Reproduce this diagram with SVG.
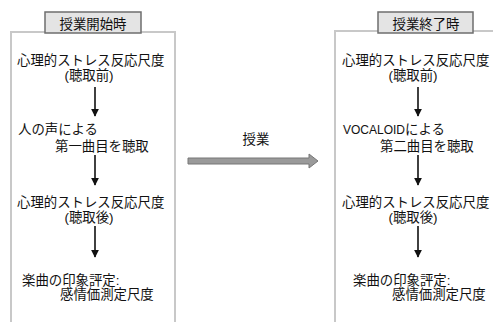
<svg xmlns="http://www.w3.org/2000/svg" width="493" height="322" viewBox="0 0 493 322">
<defs>
<style>
text{font-family:"Liberation Sans","Noto Sans CJK JP",sans-serif;font-size:13.4px;fill:#111}
.box{fill:#fff;stroke:#c8c8c8;stroke-width:2}
.tab{fill:#e4e4e4;stroke:#6e6e6e;stroke-width:1.5}
.down{stroke:#111;stroke-width:1.6;fill:none;marker-end:url(#ah)}
.mid{text-anchor:middle}
</style>
<marker id="ah" viewBox="0 0 10 10" refX="9" refY="5" markerWidth="5" markerHeight="5" orient="auto" markerUnits="strokeWidth">
<path d="M0,0 L10,5 L0,10 Z" fill="#111"/>
</marker>
</defs>
<rect width="493" height="322" fill="#fff"/>
<g id="left-panel">
<rect class="box" x="11" y="32" width="164" height="300"/>
<rect class="tab" x="45" y="12" width="96" height="21"/>
<text x="93" y="29" class="mid">授業開始時</text>
</g>
<g id="right-panel">
<rect class="box" x="335" y="31" width="170" height="300"/>
<rect class="tab" x="378" y="12" width="95" height="21"/>
<text x="426" y="29" class="mid">授業終了時</text>
</g>
<g id="L1"><text x="17" y="65">心理的ストレス反応尺度</text><text x="89" y="80" class="mid">(聴取前)</text></g>
<g id="L2"><text x="18" y="134">人の声による</text><text x="55" y="151">第一曲目を聴取</text></g>
<g id="L3"><text x="17" y="207">心理的ストレス反応尺度</text><text x="89" y="222" class="mid">(聴取後)</text></g>
<g id="L4"><text x="22" y="285">楽曲の印象評定:</text><text x="60" y="299">感情価測定尺度</text></g>
<g id="R1"><text x="342" y="65">心理的ストレス反応尺度</text><text x="413" y="80" class="mid">(聴取前)</text></g>
<g id="R2"><text x="343" y="134"><tspan font-size="12">VOCALOID</tspan>による</text><text x="380" y="151">第二曲目を聴取</text></g>
<g id="R3"><text x="342" y="207">心理的ストレス反応尺度</text><text x="413" y="222" class="mid">(聴取後)</text></g>
<g id="R4"><text x="353" y="285">楽曲の印象評定:</text><text x="392" y="299">感情価測定尺度</text></g>
<g id="lesson"><text x="256" y="144" class="mid">授業</text></g>
<g id="connectors">
<line class="down" x1="95" y1="87" x2="95" y2="116"/>
<line class="down" x1="95" y1="155" x2="95" y2="185"/>
<line class="down" x1="95" y1="226" x2="95" y2="257"/>
<line class="down" x1="418" y1="87" x2="418" y2="116"/>
<line class="down" x1="418" y1="155" x2="418" y2="185"/>
<line class="down" x1="418" y1="226" x2="418" y2="257"/>
<polygon points="188,158 309,158 309,154 318,161 309,168 309,164 188,164" fill="#9a9a9a" stroke="#777" stroke-width="1"/>
</g>
</svg>
